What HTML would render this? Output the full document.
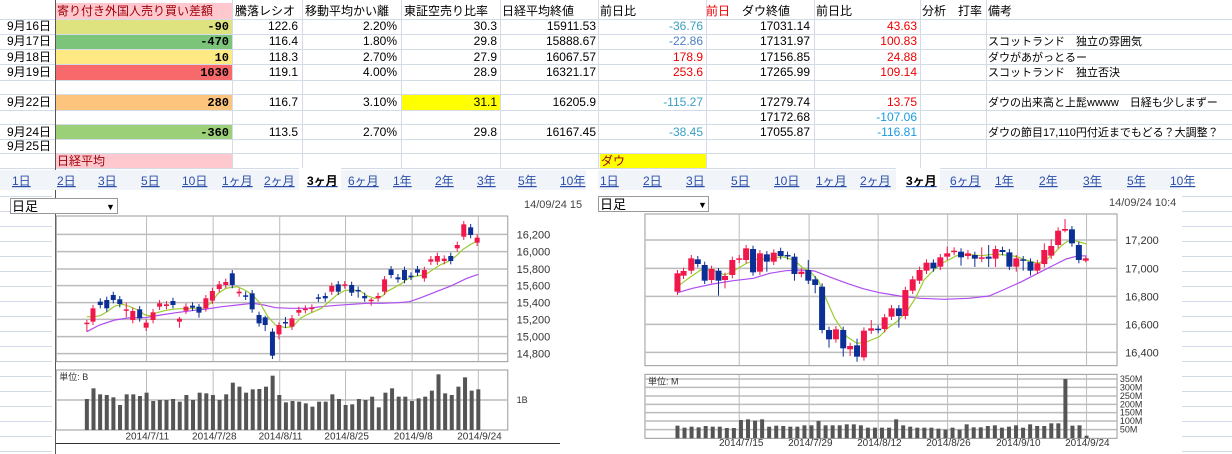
<!DOCTYPE html>
<html><head><meta charset="utf-8">
<style>
html,body{margin:0;padding:0;background:#fff;}
svg{display:block;font-family:"Liberation Sans","Noto Sans CJK JP",sans-serif;}
</style></head>
<body>
<svg id="s" width="1232" height="454" viewBox="0 0 1232 454" xmlns="http://www.w3.org/2000/svg">
<rect width="1232" height="454" fill="#fff"/>
<rect x="55" y="3" width="177" height="16" fill="#ffc7ce"/>
<rect x="55" y="19" width="177" height="15" fill="#dfe37f"/>
<rect x="55" y="34" width="177" height="15" fill="#7dc47b"/>
<rect x="55" y="49" width="177" height="15" fill="#fee983"/>
<rect x="55" y="64" width="177" height="16" fill="#f8696b"/>
<rect x="55" y="94" width="177" height="16" fill="#fdc47d"/>
<rect x="55" y="124" width="177" height="15" fill="#9bcf78"/>
<rect x="401" y="94" width="99" height="16" fill="#ffff00"/>
<rect x="55" y="153" width="177" height="15" fill="#ffc7ce"/>
<rect x="600" y="153" width="106" height="15" fill="#ffff00"/>
<g id="grid" stroke="#d4dbe8" stroke-width="1"></g>
<line x1="55.5" y1="0" x2="55.5" y2="454" stroke="#555" stroke-width="1"/>
<g font-size="12" fill="#000">
<text x="57" y="15" fill="#9c0006">寄り付き外国人売り買い差額</text>
<text x="235" y="15">騰落レシオ</text>
<text x="305" y="15">移動平均かい離</text>
<text x="404" y="15">東証空売り比率</text>
<text x="502" y="15">日経平均終値</text>
<text x="600" y="15">前日比</text>
<text x="706" y="15"><tspan fill="#e00">前日</tspan>　ダウ終値</text>
<text x="816" y="15">前日比</text>
<text x="922" y="15">分析　打率</text>
<text x="988" y="15">備考</text>
<g text-anchor="end">
<text x="51" y="30">9月16日</text><text x="51" y="45">9月17日</text><text x="51" y="61">9月18日</text><text x="51" y="76">9月19日</text><text x="51" y="106">9月22日</text><text x="51" y="136">9月24日</text><text x="51" y="150">9月25日</text>
<g font-weight="bold" font-family="Liberation Mono,monospace"><text x="229" y="30">-90</text><text x="229" y="45">-470</text><text x="229" y="61">10</text><text x="229" y="76">1030</text><text x="229" y="106">280</text><text x="229" y="136">-360</text></g>
<text x="298" y="30">122.6</text><text x="298" y="45">116.4</text><text x="298" y="61">118.3</text><text x="298" y="76">119.1</text><text x="298" y="106">116.7</text><text x="298" y="136">113.5</text>
<text x="397" y="30">2.20%</text><text x="397" y="45">1.80%</text><text x="397" y="61">2.70%</text><text x="397" y="76">4.00%</text><text x="397" y="106">3.10%</text><text x="397" y="136">2.70%</text>
<text x="497" y="30">30.3</text><text x="497" y="45">29.8</text><text x="497" y="61">27.9</text><text x="497" y="76">28.9</text><text x="497" y="106">31.1</text><text x="497" y="136">29.8</text>
<text x="596" y="30">15911.53</text><text x="596" y="45">15888.67</text><text x="596" y="61">16067.57</text><text x="596" y="76">16321.17</text><text x="596" y="106">16205.9</text><text x="596" y="136">16167.45</text>
<text x="703" y="30" fill="#3a9fc2">-36.76</text><text x="703" y="45" fill="#4c7fc4">-22.86</text><text x="703" y="61" fill="#e00">178.9</text><text x="703" y="76" fill="#e00">253.6</text><text x="703" y="106" fill="#3a9fc2">-115.27</text><text x="703" y="136" fill="#3a9fc2">-38.45</text>
<text x="810" y="30">17031.14</text><text x="810" y="45">17131.97</text><text x="810" y="61">17156.85</text><text x="810" y="76">17265.99</text><text x="810" y="106">17279.74</text><text x="810" y="121">17172.68</text><text x="810" y="136">17055.87</text>
<text x="917" y="30" fill="#e00">43.63</text><text x="917" y="45" fill="#e00">100.83</text><text x="917" y="61" fill="#e00">24.88</text><text x="917" y="76" fill="#e00">109.14</text><text x="917" y="106" fill="#e00">13.75</text><text x="917" y="121" fill="#1a9be0">-107.06</text><text x="917" y="136" fill="#1a9be0">-116.81</text>
</g>
<g font-size="11">
<text x="988" y="45">スコットランド　独立の雰囲気</text>
<text x="988" y="61">ダウがあがっとるー</text>
<text x="988" y="76">スコットランド　独立否決</text>
<text x="988" y="106">ダウの出来高と上髭wwww　日経も少しまずー</text>
<text x="988" y="136">ダウの節目17,110円付近までもどる？大調整？</text>
</g>
<text x="57" y="165" fill="#9c0006">日経平均</text>
<text x="601" y="165" fill="#9c0006">ダウ</text>
</g>
<rect x="0" y="170" width="586" height="20" fill="#f1f4f9"/>
<rect x="598" y="170" width="582" height="20" fill="#f1f4f9"/>
<rect x="299" y="168" width="42" height="23" fill="#fff"/>
<rect x="896" y="168" width="44" height="23" fill="#fff"/>
<g id="tabs" font-size="12" fill="#2b4ea8" text-decoration="underline"></g>
<rect x="10.5" y="198.5" width="107" height="15" fill="#fff" stroke="#999"/>
<text x="12" y="211" font-size="13">日足</text><text x="106" y="210" font-size="9">▼</text>
<text x="524" y="208" font-size="11" fill="#444">14/09/24 15</text>
<rect x="598.5" y="196.5" width="110" height="15" fill="#fff" stroke="#999"/>
<text x="600" y="209" font-size="13">日足</text><text x="698" y="208" font-size="9">▼</text>
<text x="1109" y="206" font-size="11" fill="#444">14/09/24 10:4</text>
<g id="charts"></g>
</svg>
<script>
const NS="http://www.w3.org/2000/svg",S=document.getElementById('s');
function el(p,t,a,tx){const e=document.createElementNS(NS,t);for(const k in a)e.setAttribute(k,a[k]);if(tx!=null)e.textContent=tx;p.appendChild(e);return e;}
const G=document.getElementById('grid');
[19,34,49,64,80,94,110,124,139,153,168].forEach(y=>el(G,'line',{x1:0,x2:1232,y1:y+.5,y2:y+.5}));
[232,302,401,500,598,706,814,920,986].forEach(x=>el(G,'line',{x1:x+.5,x2:x+.5,y1:0,y2:168}));
for(let y=196;y<454;y+=15){el(G,'line',{x1:0,x2:52,y1:y+.5,y2:y+.5});el(G,'line',{x1:1182,x2:1232,y1:y+.5,y2:y+.5});}
const T=document.getElementById('tabs');
const tl=["1日","2日","3日","5日","10日","1ヶ月","2ヶ月","3ヶ月","6ヶ月","1年","2年","3年","5年","10年"];
[12,57,98,141,182,222,264,307,348,393,435,477,518,560].forEach((x,i)=>{const t=el(T,'text',{x:x,y:185},tl[i]);if(i==7){t.setAttribute('fill','#000');t.setAttribute('font-weight','bold');t.setAttribute('text-decoration','none');}});
[600,643,686,731,774,816,860,906,950,995,1039,1083,1127,1170].forEach((x,i)=>{const t=el(T,'text',{x:x,y:185},tl[i]);if(i==7){t.setAttribute('fill','#000');t.setAttribute('font-weight','bold');t.setAttribute('text-decoration','none');}});
const C=document.getElementById('charts');
function chart(ox,sx,cfg){
 const X=z=>ox+z*sx, Y=z=>190+z/3, bw=cfg.bw;
 const g=el(C,'g',{});
 el(g,'rect',{x:X(cfg.box[0]),y:Y(cfg.box[1]),width:X(cfg.box[2])-X(cfg.box[0]),height:Y(cfg.box[3])-Y(cfg.box[1]),fill:'#fff',stroke:'#999'});
 el(g,'rect',{x:X(cfg.vbox[0]),y:Y(cfg.vbox[1]),width:X(cfg.vbox[2])-X(cfg.vbox[0]),height:Y(cfg.vbox[3])-Y(cfg.vbox[1]),fill:'#fff',stroke:'#999'});
 cfg.vx.forEach(v=>{el(g,'line',{x1:X(v),x2:X(v),y1:Y(cfg.box[1]),y2:Y(cfg.box[3]),stroke:'#bbb'});el(g,'line',{x1:X(v),x2:X(v),y1:Y(cfg.vbox[1]),y2:Y(cfg.vbox[3]),stroke:'#bbb'});});
 cfg.hy.forEach(h=>{el(g,'line',{x1:X(cfg.box[0]),x2:X(cfg.box[2]),y1:Y(h[0]),y2:Y(h[0]),stroke:'#bbb','stroke-width':1.5});el(g,'text',{x:X(cfg.lx),y:Y(h[0])+4,'font-size':11,fill:'#333'},h[1]);});
 cfg.vy.forEach(h=>{el(g,'line',{x1:X(cfg.vbox[0]),x2:X(cfg.vbox[2]),y1:Y(h[0]),y2:Y(h[0]),stroke:'#bbb','stroke-width':1.5});el(g,'text',{x:X(cfg.vlx),y:Y(h[0])+3,'font-size':9,fill:'#333'},h[1]);});
 el(g,'text',{x:X(cfg.vbox[0])+3,y:Y(cfg.vbox[1])+10,'font-size':9,fill:'#333'},cfg.unit);
 cfg.dates.forEach(d=>el(g,'text',{x:X(d[0]),y:Y(cfg.dy),'font-size':10,fill:'#333','text-anchor':'middle'},d[1]));
 const n=cfg.vol.length;
 cfg.vol.forEach((v,i)=>{const x=X(cfg.v0+(cfg.v1-cfg.v0)*i/(n-1));el(g,'rect',{x:x-2,y:Y(v),width:4,height:Y(cfg.vbot)-Y(v),fill:'#555'});});
 const pl=(pts,c)=>el(g,'polyline',{points:pts.map(p=>X(p[0])+','+Y(p[1])).join(' '),fill:'none',stroke:c,'stroke-width':1.2});
 pl(cfg.pu,'#b04cf0');pl(cfg.gr,'#9ccc30');
 cfg.cd.forEach(c=>{const col=c[3]=='r'?'#f0184a':'#0c2f96';const x=X(c[0]);
  el(g,'line',{x1:x,x2:x,y1:Y(c[1]-(c[4]||10)),y2:Y(c[2]+(c[5]||10)),stroke:col});
  el(g,'rect',{x:x-bw/2,y:Y(c[1]),width:bw,height:Math.max(1.5,Y(c[2])-Y(c[1])),fill:col});});
}
const sxL=600/1568, sxR=637/1568;
chart(0,sxL,{bw:5,box:[147,78,1327,515],vbox:[147,540,1327,720],vx:[383,557,731,903,1077,1250],
 hy:[[133,'16,200'],[185,'16,000'],[237,'15,800'],[287,'15,600'],[338,'15,400'],[388,'15,200'],[440,'15,000'],[491,'14,800']],lx:1350,
 vy:[[630,'1B']],vlx:1350,unit:'単位: B',dy:748,
 dates:[[385,'2014/7/11'],[560,'2014/7/28'],[733,'2014/8/11'],[906,'2014/8/25'],[1080,'2014/9/8'],[1253,'2014/9/24']],
 v0:227,v1:1250,vbot:720,
 vol:[627,595,613,615,622,645,613,613,618,608,633,630,630,627,635,615,630,608,610,615,630,613,578,590,608,598,597,590,557,615,637,633,635,640,650,635,635,613,627,645,643,627,630,620,652,608,595,620,620,633,625,620,602,553,610,615,590,562,602,598],
 gr:[[227,380],[245,380],[262,377],[280,365],[300,348],[320,343],[340,350],[360,360],[380,375],[395,378],[410,368],[430,362],[450,358],[470,356],[490,356],[510,355],[530,355],[550,340],[570,310],[590,295],[620,290],[640,300],[660,315],[680,340],[700,380],[720,405],[745,413],[765,410],[785,385],[800,375],[820,365],[840,355],[860,335],[880,315],[900,302],[920,300],[940,302],[960,318],[980,325],[1000,318],[1010,305],[1030,293],[1050,280],[1070,263],[1090,258],[1110,255],[1130,240],[1150,225],[1170,215],[1190,200],[1210,178],[1230,163],[1250,152]],
 pu:[[227,425],[260,405],[300,390],[340,383],[380,383],[420,375],[460,368],[500,362],[540,357],[580,350],[620,345],[660,340],[690,345],[720,353],[760,355],[800,355],[840,350],[880,346],[920,343],[960,340],[1000,340],[1040,338],[1070,335],[1100,323],[1140,305],[1180,287],[1220,265],[1250,253]],
 cd:[[227,398,400,'r',8,25],[243,355,395,'r'],[262,335,345,'b'],[279,330,355,'b'],[296,315,330,'b'],[313,328,342,'b'],[330,358,362,'r',20,20],[347,363,390,'r'],[365,358,385,'b'],[382,398,413,'r'],[400,367,390,'r'],[417,340,350,'r'],[435,343,348,'r'],[452,333,345,'b'],[469,386,395,'r',5,18],[486,350,362,'r'],[503,347,353,'b'],[520,350,368,'b',8,15],[538,325,355,'r'],[555,303,332,'r'],[573,283,297,'r'],[590,276,285,'r'],[607,250,285,'b'],[625,305,310,'r'],[642,316,320,'b',12,10],[659,310,358,'b'],[677,375,400,'b'],[693,382,405,'b',5,18],[712,425,497,'b'],[729,405,433,'r',8,15],[746,396,399,'b',15,15],[763,385,410,'r'],[781,360,368,'r'],[798,356,360,'r'],[815,353,357,'r'],[832,322,326,'b'],[850,318,325,'b'],[867,288,305,'r'],[884,283,305,'b'],[901,283,286,'r'],[919,285,308,'b'],[936,300,303,'b',10,20],[953,318,325,'b'],[970,329,332,'r',5,15],[988,318,325,'r'],[1005,268,305,'r'],[1022,238,255,'b'],[1040,262,268,'b'],[1057,240,270,'b'],[1074,257,260,'b'],[1091,238,248,'b'],[1109,240,265,'r'],[1126,208,215,'r'],[1143,198,215,'r'],[1161,206,213,'r'],[1178,198,213,'b'],[1195,165,175,'r'],[1212,103,140,'r'],[1230,112,135,'b'],[1247,143,158,'r']]});
chart(595,sxR,{bw:6,box:[123,72,1285,527],vbox:[123,553,1285,745],vx:[355,527,697,868,1040,1210],
 hy:[[150,'17,200'],[235,'17,000'],[319,'16,800'],[403,'16,600'],[487,'16,400']],lx:1305,
 vy:[[567,'350M'],[592,'300M'],[618,'250M'],[643,'200M'],[668,'150M'],[693,'100M'],[719,'50M']],vlx:1292,unit:'単位: M',dy:768,
 dates:[[360,'2014/7/15'],[530,'2014/7/29'],[700,'2014/8/12'],[870,'2014/8/26'],[1042,'2014/9/10'],[1212,'2014/9/24']],
 v0:203,v1:1210,vbot:745,
 vol:[707,713,710,712,708,710,710,714,714,690,688,692,688,710,707,708,710,710,706,706,693,706,706,706,703,703,706,713,713,713,713,688,706,710,713,713,713,716,719,713,719,703,712,712,708,706,713,710,706,713,703,708,708,700,700,567,707,706,737],
 gr:[[203,290],[230,265],[260,240],[290,240],[320,255],[345,240],[370,222],[400,207],[430,207],[460,200],[490,210],[510,232],[530,245],[550,272],[570,330],[590,385],[620,440],[645,460],[670,455],[700,440],[720,415],[745,393],[770,360],[790,322],[810,270],[830,245],[850,222],[870,210],[890,197],[920,193],[950,197],[980,193],[1010,195],[1040,200],[1060,210],[1090,220],[1110,210],[1130,190],[1150,165],[1170,148],[1190,155],[1210,162]],
 pu:[[203,308],[240,295],[290,282],[340,272],[390,265],[430,250],[470,242],[510,240],[540,243],[580,262],[620,280],[660,296],[700,308],[750,318],[800,325],[860,328],[920,325],[970,318],[1010,297],[1050,275],[1090,250],[1130,225],[1160,207],[1190,197],[1210,198]],
 cd:[[203,250,305,'r'],[218,243,257,'r'],[237,205,242,'r'],[253,208,222,'b'],[270,225,272,'b'],[287,237,270,'r'],[304,242,272,'b',8,45],[320,258,270,'r',10,25],[338,210,255,'r'],[355,205,209,'r'],[372,175,210,'r'],[389,177,247,'b'],[406,190,245,'r'],[423,193,215,'b',10,30],[440,188,215,'r'],[457,183,198,'b'],[474,195,199,'b'],[491,200,252,'b',10,20],[508,245,252,'r'],[525,240,272,'b',30,10],[542,268,285,'b',10,25],[559,290,420,'b'],[576,420,448,'b',10,25],[593,418,448,'r'],[611,420,475,'b',10,25],[628,468,478,'r',10,20],[645,466,500,'b',20,15],[662,422,502,'r'],[680,415,422,'r',25,10],[697,416,420,'b'],[713,382,417,'r'],[730,355,380,'r'],[748,355,378,'b',10,35],[764,300,378,'r'],[782,268,302,'r'],[799,240,272,'r'],[816,218,242,'r'],[833,218,235,'b'],[850,202,230,'r'],[867,190,200,'r',20,10],[884,182,186,'r'],[901,185,202,'b',10,25],[918,190,198,'r'],[935,195,206,'b',10,25],[952,202,206,'r',30,10],[969,200,206,'b',35,25],[986,177,206,'r',10,25],[1003,180,186,'b'],[1020,187,230,'b'],[1037,205,230,'r',10,15],[1054,208,212,'b',10,30],[1072,215,242,'b',10,15],[1089,220,242,'r'],[1106,180,222,'r',20,10],[1123,168,197,'r',20,10],[1140,122,165,'r'],[1157,117,122,'r',30,5],[1174,118,160,'b'],[1191,165,210,'b'],[1208,205,212,'r',5,5]]});
el(S,'line',{x1:56,x2:560,y1:443.5,y2:443.5,stroke:'#333'});
</script>
</body></html>
